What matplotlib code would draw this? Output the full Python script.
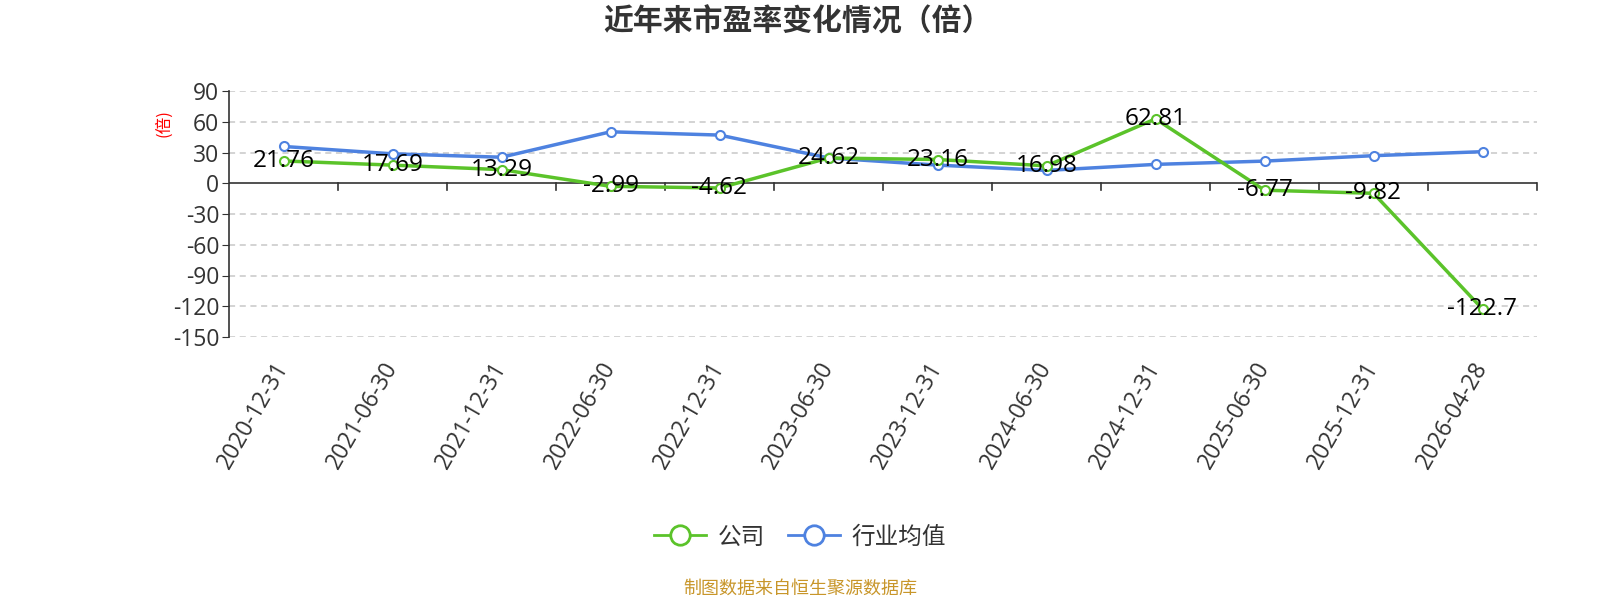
import matplotlib
matplotlib.use("Agg")
import matplotlib.pyplot as plt
from matplotlib.lines import Line2D

plt.rcParams['font.family'] = ['Noto Sans CJK SC', 'DejaVu Sans']
NUMFONT = ['Open Sans', 'Noto Sans CJK SC', 'DejaVu Sans']

categories = ["2020-12-31", "2021-06-30", "2021-12-31", "2022-06-30", "2022-12-31",
              "2023-06-30", "2023-12-31", "2024-06-30", "2024-12-31", "2025-06-30",
              "2025-12-31", "2026-04-28"]
company = [21.76, 17.69, 13.29, -2.99, -4.62, 24.62, 23.16, 16.98, 62.81, -6.77, -9.82, -122.7]
industry = [35.9, 28.7, 25.4, 50.2, 47.0, 24.7, 17.7, 12.5, 18.4, 21.6, 26.9, 30.8]
company_labels = ["21.76", "17.69", "13.29", "-2.99", "-4.62", "24.62", "23.16", "16.98",
                  "62.81", "-6.77", "-9.82", "-122.7"]
yticks = [90, 60, 30, 0, -30, -60, -90, -120, -150]

green = '#5bc32a'
blue = '#4e82e0'

fig = plt.figure(figsize=(16, 6), dpi=100)
ax = fig.add_axes([229/1600, 1-337/600, 1308/1600, 246/600])

x = list(range(len(categories)))
ax.plot(x, industry, color=blue, lw=2.5, marker='o', ms=6.5, mfc='white', mec=blue, mew=1.5, zorder=3)
ax.plot(x, company, color=green, lw=2.5, marker='o', ms=6.5, mfc='white', mec=green, mew=1.5, zorder=4)

for xi, v, t in zip(x, company, company_labels):
    ax.text(xi, v, t, ha='center', va='center', fontsize=17.5, color='black', zorder=5,
            family=NUMFONT)

ax.set_xlim(-0.5, len(categories) - 0.5)
ax.set_ylim(-150, 90)
ax.set_yticks(yticks)
ax.set_yticklabels([str(t) for t in yticks], fontsize=16.5, color='#333333', family=NUMFONT)
for t in yticks:
    if t != 0:
        ax.axhline(t, color='#c8c8c8', lw=1.1, ls=(0, (4, 3)), zorder=1)

for s in ['top', 'right', 'bottom']:
    ax.spines[s].set_visible(False)
ax.spines['left'].set_color('#333333')
ax.spines['left'].set_linewidth(1.2)
ax.axhline(0, color='#333333', lw=1.2, zorder=2)
ax.tick_params(axis='y', length=5, color='#333333', pad=2)

# x ticks at category boundaries on the zero line
ax.set_xticks([])
for b in range(1, len(categories) + 1):
    ax.plot([b - 0.5, b - 0.5], [0, -7], color='#333333', lw=1.2, zorder=2, clip_on=False)

for xi, c in zip(x, categories):
    ax.text(xi - 0.10, -170, c, rotation=60, ha='right', va='top', fontsize=16.5,
            color='#333333', rotation_mode='anchor', family=NUMFONT)

fig.text(164/1600, 1-123/600, '(倍)', rotation=90, color='red', fontsize=12, ha='center', va='center')
fig.text(797/1600, 1-22/600, '近年来市盈率变化情况（倍）', fontsize=21.5, fontweight='bold',
         color='#333333', ha='center', va='center')

handles = [Line2D([0], [0], color=green, lw=2, marker='o', ms=14, mfc='white', mec=green, mew=2),
           Line2D([0], [0], color=blue, lw=2, marker='o', ms=14, mfc='white', mec=blue, mew=2)]
fig.legend(handles, ['公司', '行业均值'], loc='center', bbox_to_anchor=(800/1600, 1-537/600),
           ncol=2, frameon=False, fontsize=17, handlelength=2.2, columnspacing=1.0,
           handletextpad=0.5, labelcolor='#333333')

fig.text(800/1600, 1-589/600, '制图数据来自恒生聚源数据库', fontsize=13, color='#c8962a',
         ha='center', va='center')

fig.savefig('out.png', dpi=100)
